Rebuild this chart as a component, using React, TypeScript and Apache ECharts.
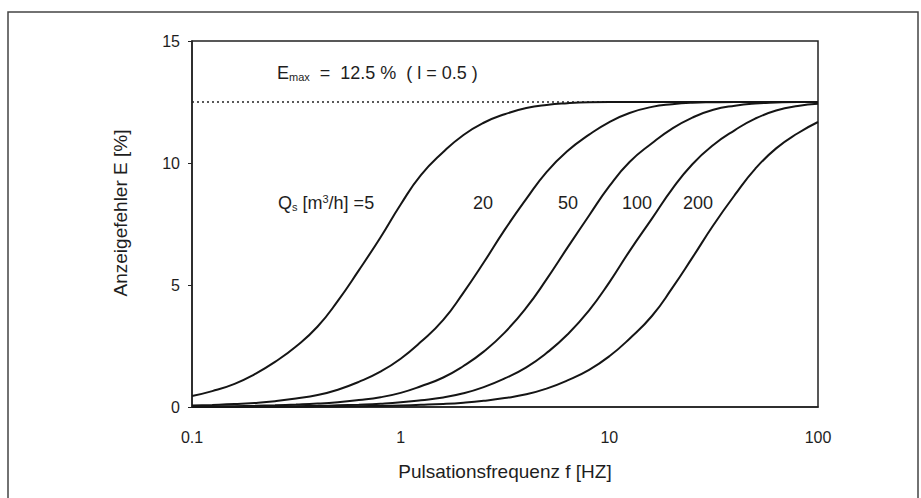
import React, { useEffect, useRef } from "react";
import * as echarts from "echarts";

// Pulsation frequency f [Hz] (log grid)
const freq = [0.1, 0.125, 0.16, 0.2, 0.25, 0.315, 0.4, 0.5, 0.63, 0.8, 1, 1.25, 1.6, 2, 2.5, 3.15, 4, 5, 6.3, 8, 10, 12.5, 16, 20, 25, 31.5, 40, 50, 63, 80, 100];
// Indication error E [%] per flow rate Q
const q5 = [0.45, 0.65, 0.95, 1.35, 1.85, 2.48, 3.3, 4.35, 5.6, 6.95, 8.3, 9.5, 10.45, 11.15, 11.65, 12.0, 12.25, 12.38, 12.45, 12.49, 12.5, 12.5, 12.5, 12.5, 12.5, 12.5, 12.5, 12.5, 12.5, 12.5, 12.5];
const q20 = [0.06, 0.084, 0.119, 0.168, 0.24, 0.346, 0.49, 0.71, 1.03, 1.45, 1.98, 2.67, 3.57, 4.69, 5.92, 7.26, 8.53, 9.63, 10.49, 11.16, 11.68, 12.05, 12.3, 12.41, 12.47, 12.49, 12.5, 12.5, 12.5, 12.5, 12.5];
const q50 = [0.018, 0.025, 0.034, 0.049, 0.07, 0.099, 0.139, 0.197, 0.285, 0.4, 0.58, 0.85, 1.21, 1.68, 2.27, 3.05, 4.07, 5.23, 6.53, 7.85, 9.05, 10.04, 10.81, 11.41, 11.86, 12.18, 12.35, 12.44, 12.48, 12.5, 12.5];
const q100 = [0.006, 0.009, 0.012, 0.017, 0.024, 0.033, 0.047, 0.068, 0.096, 0.135, 0.19, 0.275, 0.39, 0.56, 0.815, 1.17, 1.625, 2.21, 2.97, 3.96, 5.11, 6.39, 7.72, 8.93, 9.95, 10.74, 11.35, 11.82, 12.15, 12.34, 12.43];
const q200 = [0.002, 0.003, 0.004, 0.006, 0.008, 0.011, 0.016, 0.023, 0.031, 0.044, 0.063, 0.089, 0.126, 0.178, 0.255, 0.365, 0.52, 0.755, 1.09, 1.525, 2.08, 2.8, 3.73, 4.87, 6.12, 7.45, 8.7, 9.76, 10.6, 11.22, 11.68];
const seriesNames = ["5", "20", "50", "100", "200"];
const seriesValues = [q5, q20, q50, q100, q200];
const eMax = 12.5;
const xRange = [0.1, 100];
const yTicks = [0, 5, 10, 15];

const FONT = "'Liberation Sans', Arial, sans-serif";
const FS = 16;
const FT = 19;
const INK = "#1e1e1e";

export default function App() {
  const ref = useRef<HTMLDivElement>(null);
  useEffect(() => {
    if (!ref.current) return;
    const chart = echarts.init(ref.current, null, { renderer: "svg" });
    const lineSeries = seriesValues.map((vals, i) => ({
      name: "Q=" + seriesNames[i],
      type: "line",
      data: freq.map((f, j) => [f, vals[j]]),
      showSymbol: false,
      smooth: 0.5,
      lineStyle: { color: "#151515", width: 2 },
      z: 3,
    }));
    const txt = (text: string, x: number) => ({
      type: "text",
      x,
      y: 203,
      style: { text, font: "18px " + FONT, fill: INK, align: "center", verticalAlign: "middle" },
    });
    chart.setOption({
      animation: false,
      backgroundColor: "#fff",
      textStyle: { fontFamily: FONT },
      grid: { left: 192, right: 103, top: 41, bottom: 91, show: true, borderColor: "#222", borderWidth: 1.5, backgroundColor: "transparent" },
      xAxis: {
        type: "log",
        logBase: 10,
        min: xRange[0],
        max: xRange[1],
        name: "Pulsationsfrequenz f [HZ]",
        nameLocation: "middle",
        nameGap: 55,
        nameTextStyle: { fontFamily: FONT, fontSize: FT, color: INK },
        axisLine: { lineStyle: { color: "#222", width: 1.5 } },
        axisTick: { show: false },
        splitLine: { show: false },
        axisLabel: { fontFamily: FONT, fontSize: FS, color: INK, margin: 22, formatter: (v: number) => String(v) },
      },
      yAxis: {
        type: "value",
        min: yTicks[0],
        max: yTicks[yTicks.length - 1],
        interval: 5,
        axisLine: { show: true, lineStyle: { color: "#222", width: 1.5 } },
        axisTick: { show: true, inside: false, length: 4, lineStyle: { color: "#222" } },
        splitLine: { show: false },
        axisLabel: { fontFamily: FONT, fontSize: FS, color: INK, margin: 12 },
      },
      series: [
        {
          name: "Emax",
          type: "line",
          data: [[xRange[0], eMax], [xRange[1], eMax]],
          showSymbol: false,
          lineStyle: { color: "#222", width: 1.5, type: [2, 3] },
          z: 2,
        },
        ...lineSeries,
      ],
      graphic: [
        { type: "rect", shape: { x: 8, y: 12, width: 910, height: 500 }, style: { fill: "none", stroke: "#444", lineWidth: 1.5 }, z: 0 },
        {
          type: "text",
          x: 120,
          y: 213,
          rotation: Math.PI / 2,
          style: { text: "Anzeigefehler E [%]", font: FT + "px " + FONT, fill: INK, align: "center", verticalAlign: "middle" },
        },
        {
          type: "text",
          x: 277,
          y: 73,
          style: {
            text: "{a|E}{s|max}{a|  =  12.5 %  ( l = 0.5 )}",
            rich: {
              a: { fontFamily: FONT, fontSize: 18, fill: INK },
              s: { fontFamily: FONT, fontSize: 11, fill: INK, padding: [8, 0, 0, 0] },
            },
            verticalAlign: "middle",
            fill: INK,
          },
        },
        {
          type: "text",
          x: 278,
          y: 203,
          style: {
            text: "{a|Q}{s|s}{a| [m}{p|3}{a|/h] =5}",
            rich: {
              a: { fontFamily: FONT, fontSize: 18, fill: INK },
              s: { fontFamily: FONT, fontSize: 11, fill: INK, padding: [8, 0, 0, 0] },
              p: { fontFamily: FONT, fontSize: 11, fill: INK, padding: [0, 0, 8, 0] },
            },
            verticalAlign: "middle",
            fill: INK,
          },
        },
        txt("20", 483),
        txt("50", 568),
        txt("100", 637),
        txt("200", 698),
      ],
    });
    return () => chart.dispose();
  }, []);
  return <div ref={ref} style={{ position: "fixed", left: 0, top: 0, width: 921, height: 498 }} />;
}
